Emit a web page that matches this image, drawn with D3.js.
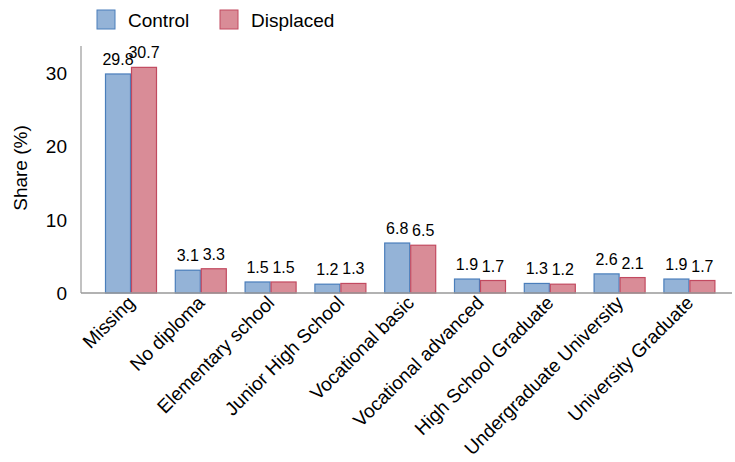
<!DOCTYPE html>
<html><head><meta charset="utf-8">
<script src="https://cdn.jsdelivr.net/npm/d3@7"></script>
<style>body{margin:0;background:#fff}svg{display:block}text{font-family:"Liberation Sans",Arial,sans-serif;fill:#000}</style>
</head><body><svg id="c" width="735" height="462"></svg>
<script>
const categories = ["Missing","No diploma","Elementary school","Junior High School","Vocational basic","Vocational advanced","High School Graduate","Undergraduate University","University Graduate"];
const seriesNames = ["Control","Displaced"];
const control = [29.8,3.1,1.5,1.2,6.8,1.9,1.3,2.6,1.9];
const displaced = [30.7,3.3,1.5,1.3,6.5,1.7,1.2,2.1,1.7];
const yTicks = [0,10,20,30];

const fills = {Control:"#94b3d7", Displaced:"#d98c97"};
const strokes = {Control:"#4a7ebb", Displaced:"#c24a60"};

const svg = d3.select("#c");
const x0 = 81, yBase = 293;
const x = d3.scaleBand().domain(categories).range([96.1, 724.3]).paddingInner(0.255).paddingOuter(0.1275);
const xs = d3.scaleBand().domain(seriesNames).range([0, x.bandwidth()]);
const y = d3.scaleLinear().domain([0,30]).range([yBase, 72.5]);

// y axis
const ya = svg.append("g").attr("transform",`translate(${x0},0)`).call(d3.axisLeft(y).tickValues(yTicks).tickSize(0).tickPadding(14));
ya.select(".domain").remove();
ya.selectAll("text").style("font-size","19px").attr("dy","0.35em");
svg.append("line").attr("x1",x0).attr("x2",x0).attr("y1",46).attr("y2",yBase).attr("stroke","#999").attr("stroke-width",1.2);

const data = categories.map((c,i)=>({cat:c, vals:[{s:"Control",v:control[i]},{s:"Displaced",v:displaced[i]}]}));
const g = svg.selectAll(".grp").data(data).join("g").attr("transform",d=>`translate(${x(d.cat)},0)`);
g.selectAll("rect").data(d=>d.vals).join("rect")
  .attr("x",d=>xs(d.s)+0.5).attr("width",xs.bandwidth()-1)
  .attr("y",d=>y(d.v)).attr("height",d=>yBase-y(d.v))
  .attr("fill",d=>fills[d.s]).attr("stroke",d=>strokes[d.s]).attr("stroke-width",1.2);
g.selectAll("text.val").data(d=>d.vals).join("text").attr("class","val")
  .attr("x",d=>xs(d.s)+xs.bandwidth()/2).attr("y",d=>y(d.v)-9)
  .attr("text-anchor","middle").style("font-size","16px").text(d=>d.v.toFixed(1));

// x axis
svg.append("line").attr("x1",x0).attr("x2",732).attr("y1",yBase).attr("y2",yBase).attr("stroke","#999").attr("stroke-width",1.5);
const xa = svg.append("g").attr("transform",`translate(0,${yBase})`).call(d3.axisBottom(x).tickSize(0).tickPadding(0));
xa.select(".domain").remove();
xa.selectAll("text").style("font-size","19px").attr("text-anchor","end")
  .attr("dy",null).attr("y",null)
  .attr("transform","translate(5,11) rotate(-45)");

// y title
svg.append("text").attr("transform","translate(27,168) rotate(-90)").attr("text-anchor","middle").style("font-size","19px").text("Share (%)");

// legend
const lg = svg.append("g");
seriesNames.forEach((s,i)=>{
  const lx = 97 + i*123;
  lg.append("rect").attr("x",lx).attr("y",10).attr("width",18).attr("height",19).attr("fill",fills[s]).attr("stroke",strokes[s]).attr("stroke-width",1);
  lg.append("text").attr("x",lx+31).attr("y",27).style("font-size","19px").text(s);
});
</script></body></html>
